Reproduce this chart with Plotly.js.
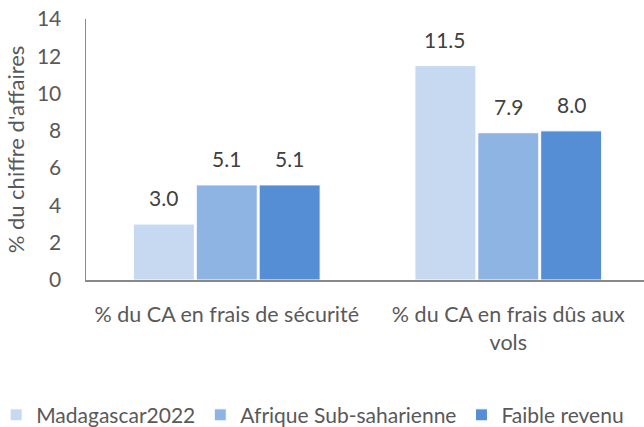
<!DOCTYPE html>
<html><head><meta charset="utf-8">
<script src="https://cdn.plot.ly/plotly-3.0.1.min.js"></script>
<style>html,body{margin:0;padding:0;background:#fff;}#chart{width:644px;height:427px;}</style>
</head><body><div id="chart"></div>
<script>
var categories = ["% du CA en frais de sécurité", "% du CA en frais dûs aux<br>vols"];
var seriesNames = ["Madagascar2022", "Afrique Sub-saharienne", "Faible revenu"];
var madagascar = [3.0, 11.5];
var afrique = [5.1, 7.9];
var faible = [5.1, 8.0];
var yTicks = [0, 2, 4, 6, 8, 10, 12, 14];

var colors = ["#c6d9f1", "#8eb4e3", "#558ed5"];
var values = [madagascar, afrique, faible];
var font = "Lato, 'Open Sans', sans-serif";
var bargap = 0.33;

var data = values.map(function(v, i){
  return {
    type: "bar", x: categories, y: v, name: seriesNames[i],
    marker: {color: colors[i], line: {color: "#ffffff", width: 1}},
    hoverinfo: "none"
  };
});

var annotations = [];
values.forEach(function(v, i){
  v.forEach(function(val, j){
    annotations.push({
      xref: "x", yref: "y", x: j + (i - 1) * (1 - bargap) / 3, y: val,
      text: val.toFixed(1), showarrow: false, xanchor: "center", yanchor: "bottom", yshift: 12,
      font: {family: font, size: 21, color: "#404040"}
    });
  });
});

var layout = {
  width: 644, height: 427,
  margin: {l: 86, r: 0, t: 19, b: 147, autoexpand: false},
  paper_bgcolor: "#fff", plot_bgcolor: "#fff",
  barmode: "group", bargap: bargap, bargroupgap: 0.03,
  font: {family: font, color: "#595959", size: 21},
  showlegend: true,
  annotations: annotations,
  legend: {orientation: "h", xref: "paper", x: -0.161, xanchor: "left", y: -0.518, yanchor: "middle",
           font: {family: font, size: 21, color: "#595959"}, traceorder: "normal"},
  xaxis: {range: [-0.5, 1.482], showline: true, linecolor: "#898989", linewidth: 1.5, showgrid: false, zeroline: false,
          tickangle: 0, automargin: false,
          ticks: "outside", ticklen: 15, tickcolor: "rgba(0,0,0,0)",
          tickfont: {family: font, size: 21.5, color: "#595959"}, fixedrange: true},
  yaxis: {range: [0, 14], tickvals: yTicks, showline: true, linecolor: "#898989", linewidth: 1.5,
          automargin: false,
          showgrid: false, zeroline: false, ticks: "outside", ticklen: 19, tickcolor: "rgba(0,0,0,0)",
          tickfont: {family: font, size: 21, color: "#595959"},
          title: {text: "% du chiffre d'affaires", font: {family: font, size: 22, color: "#595959"}, standoff: 6}}
};

Plotly.newPlot("chart", data, layout, {staticPlot: true, displayModeBar: false});
</script></body></html>
